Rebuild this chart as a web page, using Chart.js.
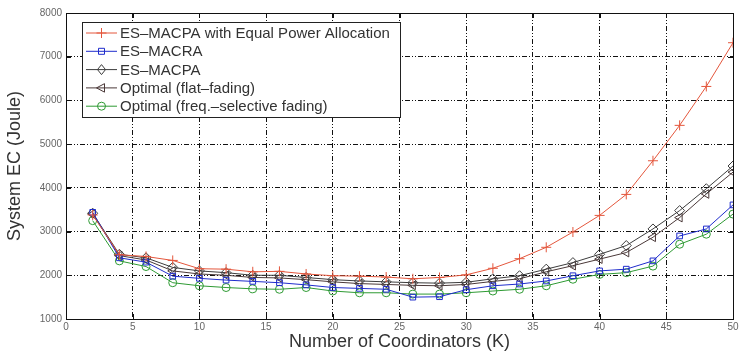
<!DOCTYPE html>
<html>
<head>
<meta charset="utf-8">
<script src="https://cdn.jsdelivr.net/npm/chart.js@4.4.0/dist/chart.umd.min.js"></script>
<style>
  html, body { margin: 0; padding: 0; background: #fff; }
  #wrap { width: 739px; height: 354px; }
</style>
</head>
<body>
<div id="wrap"><canvas id="ecChart" width="739" height="354"></canvas></div>
<script>
// number of coordinators K
const coordinators = [2, 4, 6, 8, 10, 12, 14, 16, 18, 20, 22, 24, 26, 28, 30, 32, 34, 36, 38, 40, 42, 44, 46, 48, 50];

// system energy consumption (Joule)
const ecEqualPower = [3380, 2470, 2430, 2340, 2150, 2140, 2080, 2090, 2030, 1990, 1980, 1960, 1920, 1950, 2010, 2160, 2380, 2640, 2990, 3370, 3850, 4620, 5430, 6320, 7320];
const ecMacra      = [3440, 2400, 2300, 1980, 1930, 1890, 1860, 1830, 1780, 1720, 1700, 1680, 1500, 1510, 1670, 1760, 1800, 1870, 1990, 2100, 2140, 2330, 2900, 3060, 3610];
const ecMacpa      = [3420, 2480, 2400, 2180, 2100, 2060, 2000, 2000, 1950, 1900, 1870, 1850, 1830, 1820, 1840, 1920, 1990, 2140, 2290, 2480, 2680, 3060, 3480, 3980, 4500];
const ecOptFlat    = [3400, 2450, 2350, 2100, 2030, 2000, 1950, 1940, 1900, 1850, 1810, 1790, 1770, 1760, 1790, 1860, 1920, 2080, 2220, 2370, 2520, 2870, 3320, 3860, 4360];
const ecOptFreqSel = [3250, 2330, 2200, 1830, 1760, 1720, 1690, 1680, 1720, 1640, 1600, 1600, 1570, 1570, 1600, 1640, 1680, 1760, 1910, 2020, 2060, 2210, 2710, 2940, 3400];

const xTicks = [0, 5, 10, 15, 20, 25, 30, 35, 40, 45, 50];
const yTicks = [1000, 2000, 3000, 4000, 5000, 6000, 7000, 8000];

const seriesNames = [
  'ES\u2013MACPA with Equal Power Allocation',
  'ES\u2013MACRA',
  'ES\u2013MACPA',
  'Optimal (flat\u2013fading)',
  'Optimal (freq.\u2013selective fading)'
];

const pairs = vals => coordinators.map((k, i) => ({ x: k, y: vals[i] }));

const series = [
  { label: seriesNames[0], values: ecEqualPower, color: '#e4563c', style: 'cross', rot: 0, r: 5 },
  { label: seriesNames[1], values: ecMacra, color: '#1f2ccc', style: 'rect', rot: 0, r: 4 },
  { label: seriesNames[2], values: ecMacpa, color: '#3c3c3c', style: 'rectRot', rot: 0, r: 5 },
  { label: seriesNames[3], values: ecOptFlat, color: '#4a3838', style: 'triangle', rot: -90, r: 5 },
  { label: seriesNames[4], values: ecOptFreqSel, color: '#2e9a33', style: 'circle', rot: 0, r: 4 }
];

const sans = '"Liberation Sans", Arial, sans-serif';

// small marker painter used by the boxed legend
function marker(ctx, s, x, y) {
  ctx.save();
  ctx.strokeStyle = s.color;
  ctx.lineWidth = 1;
  ctx.beginPath();
  const r = s.r;
  if (s.style === 'cross') {
    ctx.moveTo(x - r, y); ctx.lineTo(x + r, y);
    ctx.moveTo(x, y - r); ctx.lineTo(x, y + r);
  } else if (s.style === 'rect') {
    const h = r * 0.75;
    ctx.rect(x - h, y - h, 2 * h, 2 * h);
  } else if (s.style === 'rectRot') {
    ctx.moveTo(x, y - r); ctx.lineTo(x + r * 0.8, y); ctx.lineTo(x, y + r); ctx.lineTo(x - r * 0.8, y); ctx.closePath();
  } else if (s.style === 'triangle') {
    ctx.moveTo(x - r, y); ctx.lineTo(x + r * 0.6, y - r * 0.85); ctx.lineTo(x + r * 0.6, y + r * 0.85); ctx.closePath();
  } else {
    ctx.arc(x, y, r, 0, Math.PI * 2);
  }
  ctx.stroke();
  ctx.restore();
}

// box around the axes, inward ticks, and the legend in the upper left
const matlabFrame = {
  id: 'matlabFrame',
  afterDatasetsDraw(chart) {
    const { ctx, chartArea: a, scales } = chart;
    ctx.save();
    ctx.strokeStyle = '#111';
    ctx.lineWidth = 1;
    ctx.beginPath();
    xTicks.forEach(v => {
      const px = Math.round(scales.x.getPixelForValue(v)) + 0.5;
      ctx.moveTo(px, a.bottom); ctx.lineTo(px, a.bottom - 5);
      ctx.moveTo(px, a.top); ctx.lineTo(px, a.top + 5);
    });
    yTicks.forEach(v => {
      const py = Math.round(scales.y.getPixelForValue(v)) + 0.5;
      ctx.moveTo(a.left, py); ctx.lineTo(a.left + 5, py);
      ctx.moveTo(a.right, py); ctx.lineTo(a.right - 5, py);
    });
    ctx.stroke();
    ctx.strokeRect(Math.round(a.left) + 0.5, Math.round(a.top) + 0.5, Math.round(a.right - a.left), Math.round(a.bottom - a.top));

    // legend
    const bx = 82, by = 22, bw = 318, bh = 95;
    ctx.fillStyle = '#fff';
    ctx.fillRect(bx, by, bw, bh);
    ctx.strokeStyle = '#222';
    ctx.strokeRect(bx + 0.5, by + 0.5, bw, bh);
    ctx.font = '15px ' + sans;
    ctx.textBaseline = 'middle';
    series.forEach((s, i) => {
      const y = by + 11 + i * 18.3;
      ctx.strokeStyle = s.color;
      ctx.beginPath();
      ctx.moveTo(86, y); ctx.lineTo(117, y);
      ctx.stroke();
      marker(ctx, s, 101.5, y);
      ctx.fillStyle = '#333';
      ctx.fillText(s.label, 120, y + 1);
    });
    ctx.restore();
  }
};

const gridDash = [5, 2, 1, 2, 1, 2];

new Chart(document.getElementById('ecChart'), {
  type: 'line',
  data: {
    datasets: series.map(s => ({
      label: s.label,
      data: pairs(s.values),
      borderColor: s.color,
      backgroundColor: 'rgba(255,255,255,0)',
      borderWidth: 1,
      pointStyle: s.style,
      pointRotation: s.rot,
      pointRadius: s.r,
      pointBorderWidth: 1,
      pointBorderColor: s.color,
      pointBackgroundColor: 'rgba(255,255,255,0)',
      tension: 0
    }))
  },
  options: {
    responsive: false,
    animation: false,
    events: [],
    layout: { padding: { top: 13, right: 4, left: 0, bottom: 0 } },
    plugins: {
      legend: { display: false },
      tooltip: { enabled: false }
    },
    scales: {
      x: {
        type: 'linear',
        min: 0,
        max: 50,
        afterBuildTicks: sc => { sc.ticks = xTicks.map(v => ({ value: v })); },
        afterFit: sc => { sc.height = 35; sc.paddingLeft = 0; sc.paddingRight = 0; },
        ticks: {
          color: '#666',
          font: { family: sans, size: 10 },
          padding: 2,
          maxRotation: 0,
          callback: v => String(v)
        },
        grid: { color: '#111', lineWidth: 1, tickLength: 0, drawTicks: false },
        border: { display: true, color: '#111', dash: gridDash },
        title: {
          display: true,
          text: 'Number of Coordinators (K)',
          color: '#333',
          font: { family: sans, size: 18 },
          padding: { top: 0, bottom: 1 }
        }
      },
      y: {
        min: 1000,
        max: 8000,
        afterBuildTicks: sc => { sc.ticks = yTicks.map(v => ({ value: v })); },
        afterFit: sc => { sc.width = 66; },
        ticks: {
          color: '#666',
          font: { family: sans, size: 10 },
          padding: 4,
          callback: v => String(v)
        },
        grid: { color: '#111', lineWidth: 1, tickLength: 0, drawTicks: false },
        border: { display: true, color: '#111', dash: gridDash },
        title: {
          display: true,
          text: 'System EC (Joule)',
          color: '#333',
          font: { family: sans, size: 18 },
          padding: { top: 4, bottom: 0 }
        }
      }
    }
  },
  plugins: [matlabFrame]
});
</script>
</body>
</html>
